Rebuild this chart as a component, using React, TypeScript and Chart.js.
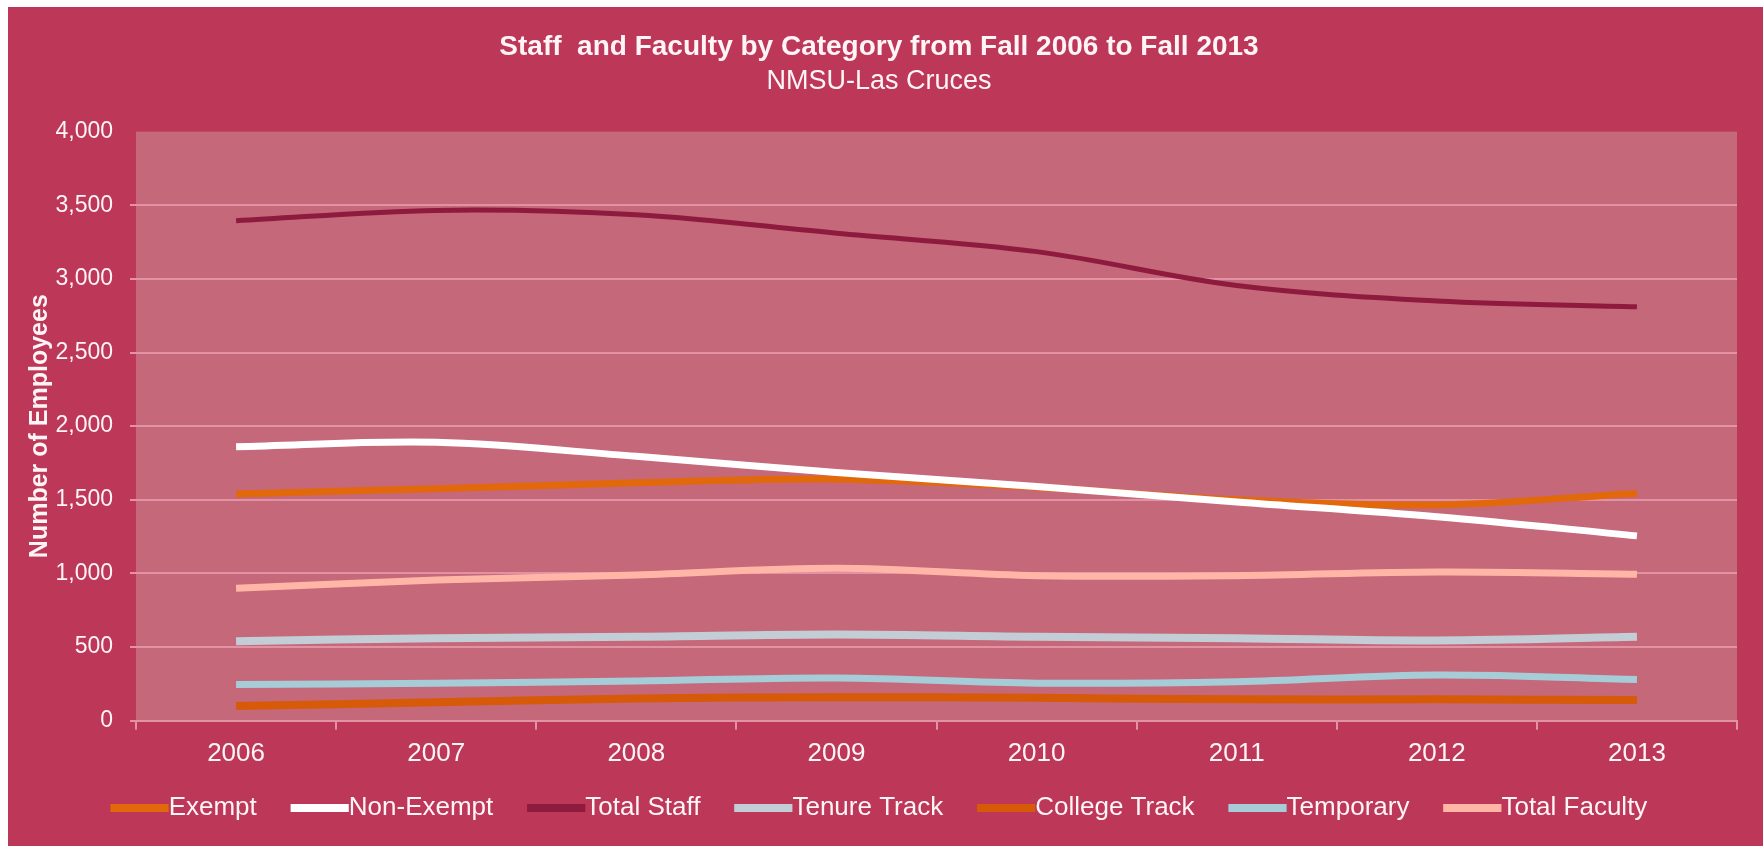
import React, { useEffect, useRef } from "react";
import { Chart, registerables } from "chart.js";

Chart.register(...registerables);

const years = ["2006", "2007", "2008", "2009", "2010", "2011", "2012", "2013"];
const exempt = [1540, 1575, 1615, 1640, 1585, 1500, 1465, 1545];
const nonExempt = [1860, 1890, 1795, 1685, 1590, 1485, 1385, 1255];
const totalStaff = [3395, 3465, 3435, 3310, 3185, 2955, 2850, 2810];
const tenureTrack = [540, 560, 570, 585, 570, 560, 545, 570];
const collegeTrack = [100, 125, 150, 160, 155, 145, 145, 140];
const temporary = [245, 255, 270, 290, 255, 265, 310, 280];
const totalFaculty = [900, 955, 990, 1035, 985, 985, 1010, 995];

const seriesNames = ["Exempt", "Non-Exempt", "Total Staff", "Tenure Track", "College Track", "Temporary", "Total Faculty"];
const seriesValues = [exempt, nonExempt, totalStaff, tenureTrack, collegeTrack, temporary, totalFaculty];
const seriesColors = ["#E2680C", "#FFFFFF", "#8E1B3E", "#C3CDD6", "#D65A08", "#A6CCD8", "#FFB6A6"];
const seriesWidths = [7, 7, 5, 8, 8, 7, 7];

const FONT = "'Liberation Sans', Arial, sans-serif";
const TEXT = "#FFF4F6";
const GRID = "#E391A4";
const OUTER_BG = "#BC3758";
const PLOT_BG = "#C5687A";
const LEGEND_FONT = 26;
const LEGEND_BOX_H = 8;

const plotBg = {
  id: "plotBg",
  beforeDraw(chart: any) {
    const { ctx, chartArea: a } = chart;
    ctx.save();
    ctx.fillStyle = PLOT_BG;
    ctx.fillRect(a.left, a.top, a.right - a.left, a.bottom - a.top);
    ctx.restore();
  },
};

// lengthen legend line markers so they run up to the label text
const legendLines = {
  id: "legendLines",
  afterDraw(chart: any) {
    const lg = chart.legend;
    if (!lg || !lg.legendHitBoxes) return;
    const { ctx } = chart;
    ctx.save();
    lg.legendHitBoxes.forEach((hb: any, i: number) => {
      const item = lg.legendItems[i];
      ctx.fillStyle = seriesColors[item.datasetIndex];
      const y = hb.top + (LEGEND_FONT - LEGEND_BOX_H) / 2;
      ctx.fillRect(hb.left, y, 58, LEGEND_BOX_H);
    });
    ctx.restore();
  },
};

export default function App() {
  const ref = useRef<HTMLCanvasElement | null>(null);

  useEffect(() => {
    if (!ref.current) return;
    const chart = new Chart(ref.current, {
      type: "line",
      data: {
        labels: years,
        datasets: seriesNames.map((name, i) => ({
          label: name,
          data: seriesValues[i],
          borderColor: seriesColors[i],
          backgroundColor: seriesColors[i],
          borderWidth: seriesWidths[i],
          pointRadius: 0,
          pointHoverRadius: 0,
          tension: 0.35,
          fill: false,
          order: seriesNames.length - i,
        })),
      },
      options: {
        animation: false,
        responsive: true,
        maintainAspectRatio: false,
        layout: { padding: { top: 0, left: 13, right: 26, bottom: 15 } },
        plugins: {
          tooltip: { enabled: false },
          title: {
            display: true,
            text: "Staff  and Faculty by Category from Fall 2006 to Fall 2013",
            color: TEXT,
            font: { size: 28, weight: "bold", family: FONT },
            padding: { top: 23, bottom: 0 },
          },
          subtitle: {
            display: true,
            text: "NMSU-Las Cruces",
            color: TEXT,
            font: { size: 27, family: FONT },
            padding: { top: 2, bottom: 33.6 },
          },
          legend: {
            position: "bottom",
            labels: {
              color: TEXT,
              font: { size: LEGEND_FONT, family: FONT },
              boxWidth: 45,
              boxHeight: LEGEND_BOX_H,
              padding: 34,
              generateLabels: (c: any) => {
                const items = (Chart as any).defaults.plugins.legend.labels.generateLabels(c);
                items.forEach((it: any) => {
                  it.lineWidth = 0;
                  it.fillStyle = seriesColors[it.datasetIndex];
                });
                return items.sort((a: any, b: any) => a.datasetIndex - b.datasetIndex);
              },
            },
          },
        },
        scales: {
          x: {
            offset: true,
            ticks: {
              color: TEXT,
              font: { size: 26, family: FONT },
              padding: 9,
              maxRotation: 0,
              autoSkip: false,
            },
            grid: {
              display: true,
              drawOnChartArea: false,
              offset: true,
              color: GRID,
              lineWidth: 2,
              tickLength: 9,
            },
            border: { display: true, color: GRID, width: 2 },
            afterFit: (s: any) => {
              s.height = 40.3;
            },
          },
          y: {
            min: 0,
            max: 4000,
            ticks: {
              stepSize: 500,
              color: TEXT,
              font: { size: 23, family: FONT },
              padding: 17,
              callback: (v: any) => Number(v).toLocaleString("en-US"),
            },
            grid: {
              color: (ctx: any) => (ctx.tick && ctx.tick.value === 4000 ? "rgba(0,0,0,0)" : GRID),
              lineWidth: 2,
              tickLength: 6,
            },
            border: { display: false },
            title: {
              display: true,
              text: "Number of Employees",
              color: TEXT,
              font: { size: 25, weight: "bold", family: FONT },
              padding: { top: 4, bottom: 0 },
            },
            afterFit: (s: any) => {
              s.width = 115;
            },
          },
        },
      },
      plugins: [plotBg, legendLines],
    } as any);
    return () => chart.destroy();
  }, []);

  return (
    <div
      style={{
        position: "fixed",
        left: 8,
        top: 7,
        width: 1755,
        height: 839,
        background: OUTER_BG,
      }}
    >
      <canvas ref={ref} />
    </div>
  );
}
